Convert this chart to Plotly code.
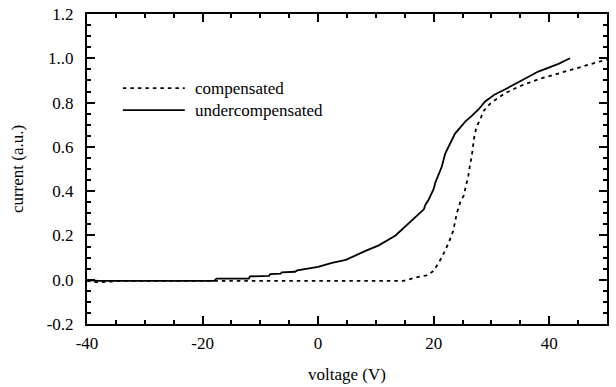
import plotly.graph_objects as go

# I-V sweep: collected current vs. probe voltage
series_names = ["compensated", "undercompensated"]

comp_voltage = [-40, -38, -36, -34, -20, 0, 14.8, 17.4, 18.8, 20, 21.4, 22.6, 23.4,
                24, 24.6, 25.2, 26, 26.3, 26.6, 27, 27.4, 28, 28.6, 29.2, 30,
                32.4, 35, 38.1, 43.8, 46.7, 50]
comp_current = [-0.005, -0.012, -0.008, -0.005, -0.005, -0.005, -0.005, 0.013, 0.02,
                0.04, 0.1, 0.167, 0.222, 0.3, 0.35, 0.38, 0.47, 0.52, 0.56, 0.64,
                0.69, 0.72, 0.76, 0.78, 0.80, 0.843, 0.875, 0.905, 0.948, 0.97, 0.995]

under_voltage = [-40, -38, -30, -18, -17.6, -12, -11.8, -8.5, -8.3, -6.5, -6.3, -4,
                 -3.6, -1, 0, 2.4, 4.8, 8.2, 10.5, 13.4, 15.7, 18.3, 18.6, 19.1, 20,
                 20.3, 21.4, 22, 23.7, 25.5, 26.6, 27.8, 28.9, 30.5, 32.4, 35.9, 38.1,
                 41.6, 43.6]
under_current = [-0.002, -0.005, -0.005, -0.005, 0.005, 0.005, 0.015, 0.017, 0.025,
                 0.027, 0.033, 0.036, 0.042, 0.053, 0.058, 0.076, 0.09, 0.13, 0.155,
                 0.2, 0.255, 0.318, 0.34, 0.36, 0.41, 0.44, 0.51, 0.57, 0.66, 0.715,
                 0.74, 0.77, 0.805, 0.835, 0.86, 0.91, 0.94, 0.975, 1.0]

y_tickvals = [-0.2, 0.0, 0.2, 0.4, 0.6, 0.8, 1.0, 1.2]
y_ticktext = ["-0.2", "0.0", "0.2", "0.4", "0.6", "0.8", "1..0", "1.2"]
x_tickvals = [-40, -20, 0, 20, 40]
x_ticktext = ["-40", "-20", "0", "20", "40"]

FONT = "Liberation Serif"
FS = 17
DOTS = "3.5px,4px"
LW = 1.8

fig = go.Figure()
fig.add_trace(go.Scatter(x=comp_voltage, y=comp_current, mode="lines",
                         name=series_names[0],
                         line=dict(color="black", width=LW, dash=DOTS)))
fig.add_trace(go.Scatter(x=under_voltage, y=under_current, mode="lines",
                         name=series_names[1],
                         line=dict(color="black", width=LW)))

# hand-placed key with long sample lines
key_rows = [(0.761, DOTS), (0.690, "solid")]
for name, (ky, dash) in zip(series_names, key_rows):
    fig.add_shape(type="line", xref="paper", yref="paper",
                  x0=0.069, x1=0.188, y0=ky, y1=ky,
                  line=dict(color="black", width=LW, dash=dash))
    fig.add_annotation(xref="paper", yref="paper", x=0.203, y=ky,
                       text=name, showarrow=False, xanchor="left",
                       yanchor="middle", font=dict(family=FONT, size=FS, color="black"))

axis_common = dict(showline=True, linewidth=2, linecolor="black", mirror="ticks",
                   ticks="inside", ticklen=8, tickwidth=1.8, tickcolor="black",
                   showgrid=False, zeroline=False,
                   tickfont=dict(family=FONT, size=FS, color="black"))

fig.update_xaxes(range=[-40, 50], tickvals=x_tickvals, ticktext=x_ticktext,
                 minor=dict(ticks="inside", dtick=5, tick0=-40, ticklen=4,
                            tickwidth=1.8, tickcolor="black", showgrid=False),
                 ticklabelstandoff=3,
                 title=dict(text="voltage (V)", standoff=16,
                            font=dict(family=FONT, size=FS, color="black")),
                 **axis_common)
fig.update_yaxes(range=[-0.2, 1.2], tickvals=y_tickvals, ticktext=y_ticktext,
                 minor=dict(ticks="inside", dtick=0.05, tick0=0, ticklen=4,
                            tickwidth=1.8, tickcolor="black", showgrid=False),
                 ticklabelstandoff=8,
                 title=dict(text="current (a.u.)", standoff=19,
                            font=dict(family=FONT, size=FS, color="black")),
                 **axis_common)

fig.update_layout(width=616, height=387, showlegend=False,
                  margin=dict(l=87, r=9, t=14, b=63, autoexpand=False),
                  paper_bgcolor="white", plot_bgcolor="white",
                  font=dict(family=FONT, color="black"))

fig.write_html("out.html")
